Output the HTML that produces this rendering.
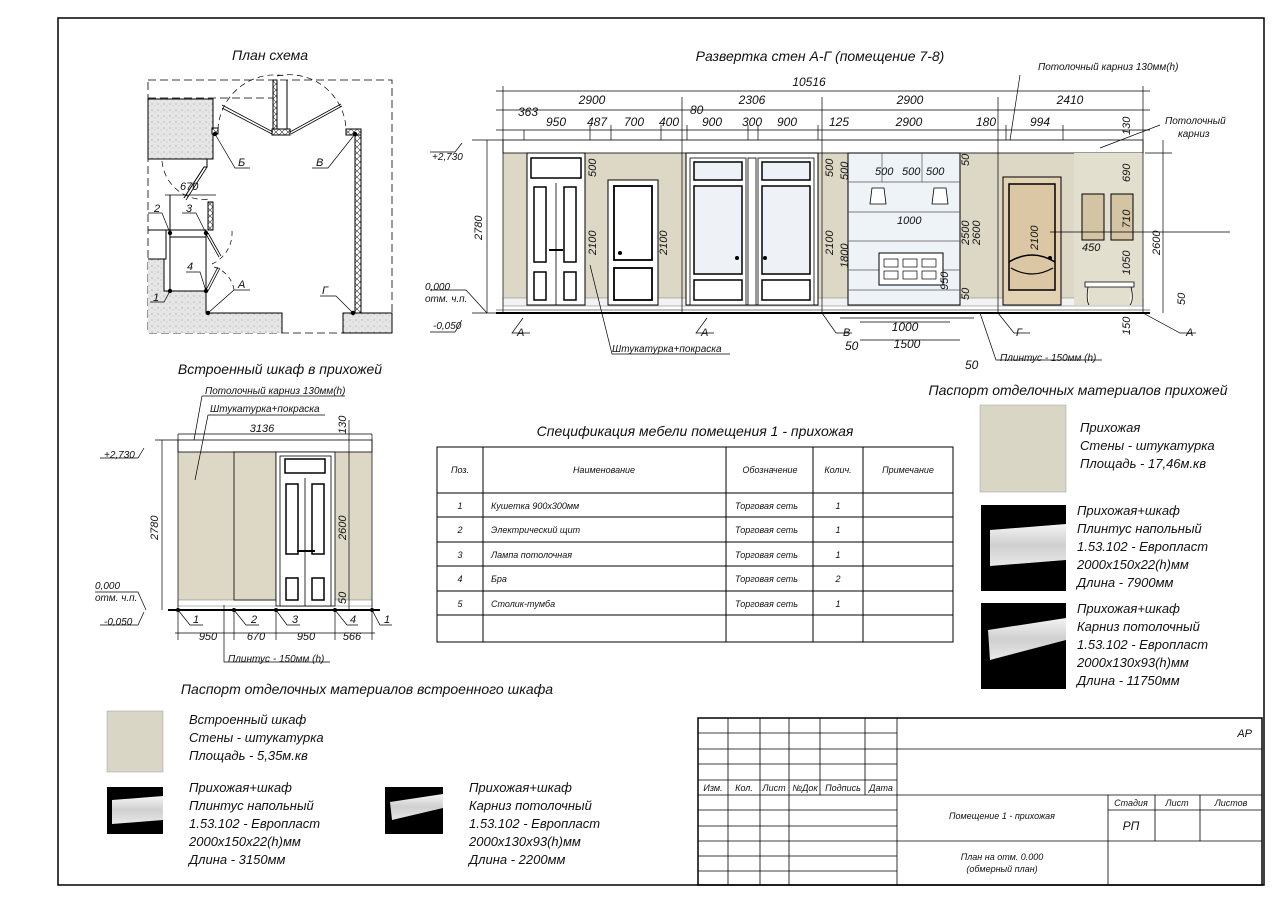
<!DOCTYPE html>
<html><head><meta charset="utf-8"><style>
html,body{margin:0;padding:0;background:#fff;}
svg{display:block;}
text{font-family:"Liberation Sans","Noto Sans CJK SC",sans-serif;font-style:italic;fill:#111;}
</style></head><body>
<svg width="1280" height="904" viewBox="0 0 1280 904" xmlns="http://www.w3.org/2000/svg">
<defs>
<pattern id="dots" width="6" height="6" patternUnits="userSpaceOnUse"><rect width="6" height="6" fill="#e6e6e6"/><circle cx="2" cy="2" r="0.6" fill="#999"/><circle cx="5" cy="4" r="0.5" fill="#aaa"/></pattern>
<pattern id="xh" width="6" height="6" patternUnits="userSpaceOnUse"><rect width="6" height="6" fill="#fff"/><path d="M0 0L6 6M6 0L0 6" stroke="#333" stroke-width="0.6"/></pattern>
<linearGradient id="pl" x1="0" y1="0" x2="0" y2="1"><stop offset="0" stop-color="#f4f4f4"/><stop offset="0.5" stop-color="#cfcfcf"/><stop offset="1" stop-color="#e8e8e8"/></linearGradient>
</defs>
<rect x="58" y="18" width="1206" height="867" fill="none" stroke="#000" stroke-width="1.5"/>

<!-- Titles -->
<text x="270" y="60" font-size="14" text-anchor="middle">План схема</text>
<text x="820" y="61" font-size="14" text-anchor="middle">Развертка стен А-Г (помещение 7-8)</text>
<text x="280" y="374" font-size="14" text-anchor="middle">Встроенный шкаф в прихожей</text>
<text x="1078" y="395" font-size="14" text-anchor="middle">Паспорт отделочных материалов прихожей</text>
<text x="695" y="436" font-size="14" text-anchor="middle">Спецификация мебели помещения 1 - прихожая</text>
<text x="367" y="694" font-size="14" text-anchor="middle">Паспорт отделочных материалов встроенного шкафа</text>

<!-- PLAN -->
<g stroke="#000" fill="none">
<rect x="148" y="80" width="244" height="253" stroke-dasharray="8,4" stroke-width="0.8"/>
<line x1="148" y1="98" x2="280" y2="98" stroke-dasharray="8,4" stroke-width="0.8"/>
<path d="M148 99H213V159H148Z" fill="url(#dots)" stroke-width="1"/>
<path d="M148 259H164V291H206V313H282V333H148Z" fill="url(#dots)" stroke="none"/>
<path d="M164 259V291H206V313H282V333" stroke-width="1"/>
<rect x="343" y="313" width="49" height="20" fill="url(#dots)"/>
<rect x="273" y="80" width="4" height="50" fill="url(#xh)"/>
<path d="M277 80V130H287V80" stroke-width="1"/>
<rect x="272" y="129" width="18" height="6" fill="url(#xh)"/>
<rect x="355" y="131" width="6" height="182" fill="url(#xh)"/>
<rect x="346" y="129" width="15" height="6" fill="url(#xh)"/>
<rect x="212" y="128" width="6" height="6" fill="url(#xh)"/>
<path d="M222 105L273 132M222 108L272 134" stroke-width="0.8"/>
<path d="M290 132L341 104M291 134L342 106" stroke-width="0.8"/>
<path d="M218 130A57 57 0 0 1 286 76" stroke-dasharray="6,4" stroke-width="0.7"/>
<path d="M277 76A57 57 0 0 1 346 128" stroke-dasharray="6,4" stroke-width="0.7"/>
<path d="M164 159H207V167H204L184 198" stroke-width="1"/>
<path d="M207 167L186 200" stroke-width="0.8"/>
<path d="M162 161A42 42 0 0 0 210 199" stroke-dasharray="6,4" stroke-width="0.7"/>
<line x1="165" y1="195" x2="216" y2="195" stroke-width="0.7"/>
<path d="M170 195V291M206 233V293" stroke-width="1"/>
<path d="M166 230H206V237H170" stroke-width="1"/>
<path d="M148 230H166V259H148" stroke-width="1"/>
<rect x="208" y="202" width="5" height="28" fill="url(#xh)"/>
<path d="M206 234L219 257M208 233L221 256" stroke-width="0.8"/>
<path d="M206 290L218 267M208 291L220 268" stroke-width="0.8"/>
<path d="M212 264A34 34 0 0 0 232 231" stroke-dasharray="5,4" stroke-width="0.7"/>
<path d="M214 267A28 28 0 0 1 234 290" stroke-dasharray="5,4" stroke-width="0.7"/>
<path d="M206 293V313" stroke-width="1"/>
<!-- leaders -->
<path d="M215 134L235 168H250M355 134L328 168H312M170 233L162 213H148M206 233L196 213H182M170 291L164 302H150M206 291L200 272H186M208 313L234 290H250M353 313L336 296H320" stroke-width="0.7"/>
</g>
<g fill="#000"><circle cx="215" cy="134" r="2.2"/><circle cx="355" cy="134" r="2.2"/><circle cx="170" cy="233" r="2.2"/><circle cx="206" cy="233" r="2.2"/><circle cx="170" cy="291" r="2.2"/><circle cx="206" cy="291" r="2.2"/><circle cx="208" cy="313" r="2.2"/><circle cx="353" cy="313" r="2.2"/></g>
<g font-size="11"><text x="238" y="166">Б</text><text x="316" y="166">В</text><text x="154" y="212">2</text><text x="186" y="212">3</text><text x="153" y="301">1</text><text x="187" y="270">4</text><text x="238" y="288">А</text><text x="322" y="294">Г</text><text x="180" y="190">670</text></g>

<!-- ELEVATION -->
<g>
<rect x="503" y="153" width="640" height="152" fill="#dcd8c5"/>
<rect x="503" y="140" width="640" height="13" fill="#fff" stroke="#000" stroke-width="0.8"/>
<rect x="503" y="298" width="640" height="8" fill="#f2f2f2" stroke="#777" stroke-width="0.5"/>
<rect x="1074" y="153" width="69" height="152" fill="#e2dfcf"/>
<line x1="496" y1="313" x2="1150" y2="313" stroke="#000" stroke-width="2"/>
<line x1="496" y1="310" x2="1150" y2="310" stroke="#000" stroke-width="0.6"/>
<!-- door 1 double -->
<rect x="527" y="153" width="58" height="152" fill="#fff" stroke="#000" stroke-width="1"/>
<rect x="531" y="158" width="50" height="20" fill="#fff" stroke="#000" stroke-width="1.5"/>
<line x1="556" y1="183" x2="556" y2="305" stroke="#000" stroke-width="0.8"/>
<rect x="534" y="187" width="12" height="75" fill="#fff" stroke="#000" stroke-width="1.5"/><rect x="564" y="187" width="12" height="75" fill="#fff" stroke="#000" stroke-width="1.5"/>
<rect x="534" y="272" width="12" height="28" fill="#fff" stroke="#000" stroke-width="1.5"/><rect x="564" y="272" width="12" height="28" fill="#fff" stroke="#000" stroke-width="1.5"/>
<line x1="549" y1="250" x2="563" y2="250" stroke="#000" stroke-width="2"/>
<!-- door 2 -->
<rect x="608" y="180" width="50" height="125" fill="#fff" stroke="#000" stroke-width="1"/>
<rect x="614" y="186" width="38" height="74" fill="#fff" stroke="#000" stroke-width="1.8"/>
<rect x="614" y="268" width="38" height="32" fill="#fff" stroke="#000" stroke-width="1.8"/>
<circle cx="620" cy="253" r="2" fill="#000"/>
<!-- door 3 -->
<rect x="686" y="153" width="132" height="152" fill="#fff" stroke="#000" stroke-width="1"/>
<rect x="690" y="158" width="56" height="147" fill="#fff" stroke="#000" stroke-width="0.8"/>
<rect x="758" y="158" width="56" height="147" fill="#fff" stroke="#000" stroke-width="0.8"/>
<rect x="748" y="158" width="8" height="147" fill="#fff" stroke="#000" stroke-width="0.8"/>
<rect x="694" y="162" width="48" height="18" fill="#eef2f6" stroke="#000" stroke-width="1.5"/><rect x="762" y="162" width="48" height="18" fill="#eef2f6" stroke="#000" stroke-width="1.5"/>
<rect x="694" y="186" width="48" height="88" fill="#eef2f6" stroke="#000" stroke-width="1.5"/><rect x="762" y="186" width="48" height="88" fill="#eef2f6" stroke="#000" stroke-width="1.5"/>
<rect x="694" y="280" width="48" height="20" fill="#fff" stroke="#000" stroke-width="1.5"/><rect x="762" y="280" width="48" height="20" fill="#fff" stroke="#000" stroke-width="1.5"/>
<circle cx="737" cy="258" r="2" fill="#000"/><circle cx="765" cy="258" r="2" fill="#000"/>
<!-- shelf unit -->
<rect x="848" y="153" width="112" height="152" fill="#eef3f7" stroke="#000" stroke-width="1"/>
<g stroke="#555" stroke-width="0.7"><line x1="848" y1="182" x2="960" y2="182"/><line x1="848" y1="212" x2="960" y2="212"/><line x1="848" y1="241" x2="960" y2="241"/><line x1="848" y1="270" x2="960" y2="270"/><line x1="848" y1="290" x2="960" y2="290"/><line x1="882" y1="153" x2="882" y2="182"/><line x1="922" y1="153" x2="922" y2="182"/></g>
<rect x="879" y="253" width="64" height="32" fill="#fff" stroke="#000" stroke-width="1"/>
<g fill="#fff" stroke="#000" stroke-width="0.7"><rect x="884" y="259" width="14" height="8"/><rect x="903" y="259" width="14" height="8"/><rect x="922" y="259" width="14" height="8"/><rect x="884" y="271" width="14" height="8"/><rect x="903" y="271" width="14" height="8"/><rect x="922" y="271" width="14" height="8"/></g>
<path d="M872 188h12l2 16h-16z M934 188h12l2 16h-16z" fill="#fff" stroke="#000" stroke-width="0.8"/>
<!-- door 4 -->
<rect x="1003" y="177" width="58" height="128" fill="#e3d2b4" stroke="#000" stroke-width="1"/>
<path d="M1009 184H1055V290H1009Z" fill="#dcc7a4" stroke="#000" stroke-width="1.5"/>
<path d="M1009 262Q1032 248 1055 262" fill="none" stroke="#000" stroke-width="1.5"/>
<path d="M1011 268Q1032 280 1053 268" fill="none" stroke="#000" stroke-width="1.2"/>
<circle cx="1050" cy="258" r="2" fill="#000"/>
<rect x="1082" y="194" width="22" height="46" fill="#d3c4a3" stroke="#000" stroke-width="1"/>
<rect x="1111" y="194" width="22" height="46" fill="#d3c4a3" stroke="#000" stroke-width="1"/>
<path d="M1085 282H1134V287H1085Z M1088 287Q1086 300 1089 305 M1131 287Q1134 300 1130 305" fill="#fff" stroke="#000" stroke-width="0.8"/>
</g>
<!-- elevation dims -->
<g stroke="#000" stroke-width="0.7" fill="none">
<line x1="496" y1="91" x2="1150" y2="91"/><line x1="496" y1="110" x2="1150" y2="110"/><line x1="496" y1="130" x2="1150" y2="130"/>
<path d="M503 86V313M682 97V313M822 97V313M998 97V313M1143 86V313"/>
<path d="M524 130V140M590 125V140M611 125V140M661 125V140M687 125V140M748 125V140M758 125V140M818 125V140M1006 125V140M1063 125V140"/>
<line x1="487" y1="140" x2="487" y2="313"/><line x1="472" y1="140" x2="503" y2="140"/><line x1="472" y1="313" x2="503" y2="313"/>
<line x1="1163" y1="140" x2="1163" y2="313"/><line x1="1145" y1="153" x2="1172" y2="153"/>
<path d="M1230 232H1143M1050 232H1143"/>
<path d="M840 318H974M860 322H950M860 340H960"/>
<path d="M523 318L512 333H530M707 318L696 333H714M822 313L836 333H852M998 313L1014 333H1030M1143 313L1180 333H1196"/>
<path d="M590 265L612 354H730M980 313L996 360H1102M1020 75L1010 140M1160 125L1100 148"/>
<path d="M430 152H455L462 143M430 290H466L487 313M430 332H455L462 320"/>
</g>
<g font-size="12">
<text x="809" y="86" text-anchor="middle">10516</text>
<text x="592" y="104" text-anchor="middle">2900</text><text x="752" y="104" text-anchor="middle">2306</text><text x="910" y="104" text-anchor="middle">2900</text><text x="1070" y="104" text-anchor="middle">2410</text>
<text x="518" y="116">363</text><text x="556" y="126" text-anchor="middle">950</text><text x="597" y="126" text-anchor="middle">487</text><text x="634" y="126" text-anchor="middle">700</text><text x="669" y="126" text-anchor="middle">400</text><text x="690" y="114">80</text><text x="712" y="126" text-anchor="middle">900</text><text x="752" y="126" text-anchor="middle">300</text><text x="787" y="126" text-anchor="middle">900</text><text x="839" y="126" text-anchor="middle">125</text><text x="909" y="126" text-anchor="middle">2900</text><text x="986" y="126" text-anchor="middle">180</text><text x="1040" y="126" text-anchor="middle">994</text>
<text x="1038" y="70" font-size="10">Потолочный карниз 130мм(h)</text>
<text x="1165" y="124" font-size="10">Потолочный</text><text x="1178" y="137" font-size="10">карниз</text>
<text x="432" y="160" font-size="10">+2,730</text><text x="425" y="290" font-size="10">0,000</text><text x="425" y="302" font-size="10">отм. ч.п.</text><text x="433" y="329" font-size="10">-0,050</text>
<text x="517" y="336" font-size="11">А</text><text x="701" y="336" font-size="11">А</text><text x="843" y="336" font-size="11">В</text><text x="1016" y="336" font-size="11">Г</text><text x="1186" y="336" font-size="11">А</text>
<text x="612" y="352" font-size="10">Штукатурка+покраска</text><text x="1000" y="361" font-size="10">Плинтус - 150мм (h)</text>
<text x="905" y="331" text-anchor="middle">1000</text><text x="907" y="348" text-anchor="middle">1500</text><text x="845" y="350">50</text><text x="965" y="369">50</text>
<text x="875" y="175" font-size="11">500</text><text x="902" y="175" font-size="11">500</text><text x="926" y="175" font-size="11">500</text><text x="897" y="224" font-size="11">1000</text>
<text x="1082" y="251" font-size="11">450</text>
<g font-size="11">
<text transform="translate(482,240) rotate(-90)">2780</text>
<text transform="translate(596,255) rotate(-90)">2100</text><text transform="translate(596,177) rotate(-90)">500</text>
<text transform="translate(667,255) rotate(-90)">2100</text>
<text transform="translate(833,255) rotate(-90)">2100</text><text transform="translate(833,177) rotate(-90)">500</text>
<text transform="translate(848,268) rotate(-90)">1800</text><text transform="translate(848,180) rotate(-90)">500</text>
<text transform="translate(969,245) rotate(-90)">2500</text><text transform="translate(980,245) rotate(-90)">2600</text><text transform="translate(969,166) rotate(-90)">50</text>
<text transform="translate(948,290) rotate(-90)">950</text><text transform="translate(969,300) rotate(-90)">50</text>
<text transform="translate(1038,250) rotate(-90)">2100</text>
<text transform="translate(1130,182) rotate(-90)">690</text><text transform="translate(1130,228) rotate(-90)">710</text><text transform="translate(1130,275) rotate(-90)">1050</text><text transform="translate(1130,335) rotate(-90)">150</text><text transform="translate(1130,135) rotate(-90)">130</text>
<text transform="translate(1160,255) rotate(-90)">2600</text><text transform="translate(1185,305) rotate(-90)">50</text>
</g>
</g>

<!-- BUILT-IN CABINET -->
<g>
<rect x="178" y="452" width="194" height="148" fill="#dcd8c5"/>
<rect x="178" y="440" width="194" height="12" fill="#fff" stroke="#000" stroke-width="0.8"/>
<rect x="178" y="600" width="194" height="6" fill="#fff" stroke="#777" stroke-width="0.5"/>
<rect x="234" y="452" width="42" height="148" fill="#dcd8c5" stroke="#000" stroke-width="0.8"/>
<rect x="276" y="452" width="59" height="154" fill="#fff" stroke="#000" stroke-width="0.8"/>
<rect x="280" y="456" width="51" height="150" fill="#fff" stroke="#000" stroke-width="0.8"/>
<rect x="285" y="459" width="40" height="14" fill="#fff" stroke="#000" stroke-width="1.5"/>
<line x1="305" y1="478" x2="305" y2="606" stroke="#000" stroke-width="0.8"/>
<rect x="286" y="484" width="12" height="70" fill="#fff" stroke="#000" stroke-width="1.5"/><rect x="312" y="484" width="12" height="70" fill="#fff" stroke="#000" stroke-width="1.5"/>
<rect x="286" y="578" width="12" height="22" fill="#fff" stroke="#000" stroke-width="1.5"/><rect x="312" y="578" width="12" height="22" fill="#fff" stroke="#000" stroke-width="1.5"/>
<line x1="297" y1="551" x2="315" y2="551" stroke="#000" stroke-width="2"/>
<line x1="168" y1="610" x2="380" y2="610" stroke="#000" stroke-width="2"/>
<g stroke="#000" stroke-width="0.7" fill="none">
<line x1="178" y1="434" x2="372" y2="434"/><line x1="162" y1="440" x2="162" y2="610"/><line x1="155" y1="440" x2="178" y2="440"/>
<line x1="178" y1="434" x2="178" y2="640"/><line x1="234" y1="610" x2="234" y2="640"/><line x1="276" y1="610" x2="276" y2="640"/><line x1="335" y1="610" x2="335" y2="640"/><line x1="372" y1="434" x2="372" y2="640"/>
<line x1="175" y1="633" x2="375" y2="633"/><line x1="349" y1="420" x2="349" y2="610"/>
<path d="M178 610L190 625H203M234 610L246 625H259M276 610L287 625H300M335 610L347 625H358M372 610L380 625H392"/>
<path d="M202 396H345M194 440L202 396M208 415H325M195 480L208 415M224 605L224 662H330"/>
<path d="M100 458H138L144 448M95 592H138L146 610M100 625H138L144 612"/>
</g>
<g fill="#000"><circle cx="178" cy="610" r="2"/><circle cx="234" cy="610" r="2"/><circle cx="276" cy="610" r="2"/><circle cx="335" cy="610" r="2"/><circle cx="372" cy="610" r="2"/></g>
<g font-size="11">
<text x="205" y="394" font-size="10">Потолочный карниз 130мм(h)</text><text x="210" y="412" font-size="10">Штукатурка+покраска</text>
<text x="262" y="432" text-anchor="middle">3136</text>
<text x="104" y="458" font-size="10">+2,730</text><text x="95" y="589" font-size="10">0,000</text><text x="95" y="601" font-size="10">отм. ч.п.</text><text x="104" y="625" font-size="10">-0,050</text>
<text x="193" y="623">1</text><text x="251" y="623">2</text><text x="292" y="623">3</text><text x="350" y="623">4</text><text x="384" y="623">1</text>
<text x="208" y="640" text-anchor="middle">950</text><text x="256" y="640" text-anchor="middle">670</text><text x="306" y="640" text-anchor="middle">950</text><text x="352" y="640" text-anchor="middle">566</text>
<text x="228" y="662" font-size="10">Плинтус - 150мм (h)</text>
<text transform="translate(158,540) rotate(-90)">2780</text><text transform="translate(346,540) rotate(-90)">2600</text><text transform="translate(346,434) rotate(-90)">130</text><text transform="translate(346,604) rotate(-90)">50</text>
</g>
</g>

<!-- SPEC TABLE -->
<g stroke="#000" stroke-width="1" fill="none">
<rect x="437" y="447" width="516" height="195"/>
<path d="M437 493H953M437 517H953M437 542H953M437 566H953M437 591H953M437 615H953"/>
<path d="M483 447V642M726 447V642M813 447V642M863 447V642"/>
</g>
<g font-size="9">
<text x="460" y="473" text-anchor="middle">Поз.</text><text x="604" y="473" text-anchor="middle">Наименование</text><text x="770" y="473" text-anchor="middle">Обозначение</text><text x="838" y="473" text-anchor="middle">Колич.</text><text x="908" y="473" text-anchor="middle">Примечание</text>
<text x="460" y="509" text-anchor="middle">1</text><text x="491" y="509">Кушетка 900х300мм</text><text x="735" y="509">Торговая сеть</text><text x="838" y="509" text-anchor="middle">1</text>
<text x="460" y="533" text-anchor="middle">2</text><text x="491" y="533">Электрический щит</text><text x="735" y="533">Торговая сеть</text><text x="838" y="533" text-anchor="middle">1</text>
<text x="460" y="558" text-anchor="middle">3</text><text x="491" y="558">Лампа потолочная</text><text x="735" y="558">Торговая сеть</text><text x="838" y="558" text-anchor="middle">1</text>
<text x="460" y="582" text-anchor="middle">4</text><text x="491" y="582">Бра</text><text x="735" y="582">Торговая сеть</text><text x="838" y="582" text-anchor="middle">2</text>
<text x="460" y="607" text-anchor="middle">5</text><text x="491" y="607">Столик-тумба</text><text x="735" y="607">Торговая сеть</text><text x="838" y="607" text-anchor="middle">1</text>
</g>

<!-- RIGHT MATERIALS -->
<rect x="980" y="405" width="86" height="87" fill="#d9d6c6" stroke="#999" stroke-width="0.5"/>
<g font-size="13"><text x="1080" y="432">Прихожая</text><text x="1080" y="450">Стены - штукатурка</text><text x="1080" y="468">Площадь - 17,46м.кв</text></g>
<rect x="981" y="505" width="85" height="86" fill="#000"/>
<path d="M990 530L1066 524V560L990 566Z" fill="url(#pl)"/>
<g font-size="13"><text x="1077" y="515">Прихожая+шкаф</text><text x="1077" y="533">Плинтус напольный</text><text x="1077" y="551">1.53.102 - Европласт</text><text x="1077" y="569">2000х150х22(h)мм</text><text x="1077" y="587">Длина - 7900мм</text></g>
<rect x="981" y="603" width="85" height="86" fill="#000"/>
<path d="M988 630L1066 618V640L990 660Z" fill="url(#pl)"/>
<g font-size="13"><text x="1077" y="613">Прихожая+шкаф</text><text x="1077" y="631">Карниз потолочный</text><text x="1077" y="649">1.53.102 - Европласт</text><text x="1077" y="667">2000х130х93(h)мм</text><text x="1077" y="685">Длина - 11750мм</text></g>

<!-- BOTTOM LEFT MATERIALS -->
<rect x="107" y="711" width="56" height="61" fill="#d9d6c6" stroke="#999" stroke-width="0.5"/>
<g font-size="13"><text x="189" y="724">Встроенный шкаф</text><text x="189" y="742">Стены - штукатурка</text><text x="189" y="760">Площадь - 5,35м.кв</text></g>
<rect x="107" y="787" width="56" height="47" fill="#000"/>
<path d="M112 800L163 796V820L112 824Z" fill="url(#pl)"/>
<g font-size="13"><text x="189" y="792">Прихожая+шкаф</text><text x="189" y="810">Плинтус напольный</text><text x="189" y="828">1.53.102 - Европласт</text><text x="189" y="846">2000х150х22(h)мм</text><text x="189" y="864">Длина - 3150мм</text></g>
<rect x="385" y="787" width="58" height="47" fill="#000"/>
<path d="M390 802L443 794V808L392 820Z" fill="url(#pl)"/>
<g font-size="13"><text x="469" y="792">Прихожая+шкаф</text><text x="469" y="810">Карниз потолочный</text><text x="469" y="828">1.53.102 - Европласт</text><text x="469" y="846">2000х130х93(h)мм</text><text x="469" y="864">Длина - 2200мм</text></g>

<!-- TITLE BLOCK -->
<g stroke="#000" fill="none">
<rect x="698" y="718" width="564" height="167" stroke-width="1.5"/>
<path d="M698 733H897M698 749H1262M698 764H897M698 780H897M698 795H1262M698 810H897M698 826H897M698 841H1262M698 856H897M698 871H897" stroke-width="0.8"/>
<path d="M728 718V885M760 718V885M789 718V885M820 718V795M865 718V795M897 718V885" stroke-width="0.8"/>
<path d="M1108 795V885M1155 795V841M1200 795V841M1108 810H1262" stroke-width="0.8"/>
</g>
<g font-size="9">
<text x="713" y="791" text-anchor="middle">Изм.</text><text x="744" y="791" text-anchor="middle">Кол.</text><text x="774" y="791" text-anchor="middle">Лист</text><text x="805" y="791" text-anchor="middle">№Док</text><text x="843" y="791" text-anchor="middle">Подпись</text><text x="881" y="791" text-anchor="middle">Дата</text>
<text x="1252" y="737" font-size="11" text-anchor="end">АР</text>
<text x="1002" y="819" text-anchor="middle">Помещение 1 - прихожая</text>
<text x="1131" y="806" text-anchor="middle">Стадия</text><text x="1177" y="806" text-anchor="middle">Лист</text><text x="1231" y="806" text-anchor="middle">Листов</text>
<text x="1131" y="830" font-size="12" text-anchor="middle">РП</text>
<text x="1002" y="860" text-anchor="middle">План на отм. 0.000</text><text x="1002" y="872" text-anchor="middle">(обмерный план)</text>
</g>
</svg>
</body></html>
